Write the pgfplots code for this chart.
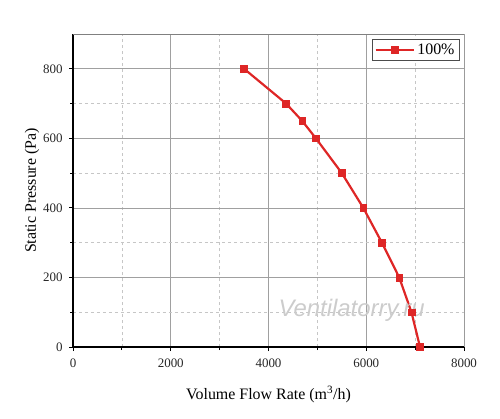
\documentclass[border=0pt]{standalone}
\usepackage{pgfplots}
\pgfplotsset{compat=1.18}
\usepackage{fontspec}
\setmainfont{Liberation Serif}
\setsansfont{Liberation Sans}
\definecolor{cred}{RGB}{222,38,38}
\definecolor{gridc}{RGB}{160,160,160}
\begin{document}
\begin{tikzpicture}[x=1bp,y=1bp]
\path[use as bounding box] (0,0) rectangle (500,418);
\begin{axis}[
  at={(73bp,71bp)}, anchor=south west,
  scale only axis, width=391bp, height=313bp,
  xmin=0, xmax=8000, ymin=0, ymax=900,
  xtick={0,2000,4000,6000,8000},
  ytick={0,200,400,600,800},
  minor xtick={1000,3000,5000,7000},
  minor ytick={100,300,500,700},
  grid=both,
  major grid style={gridc, line width=0.6pt},
  minor grid style={gridc!60, dashed, line width=0.4pt},
  axis x line*=bottom, axis y line*=left,
  axis line style={black, line width=1.1pt, -},
  tick align=outside,
  tick style={black, line width=0.8pt},
  major tick length=4bp, minor tick length=3bp,
  xtick pos=bottom, ytick pos=left,
  scaled x ticks=false,
  /pgf/number format/assume math mode=true,
  /pgf/number format/1000 sep={},
  tick label style={font=\fontsize{13}{15}\selectfont, text=black!85},
  xticklabel style={yshift=-4bp},
  yticklabel style={xshift=-3bp},
  xlabel={Volume Flow Rate (m\textsuperscript{3}/h)},
  ylabel={Static Pressure (Pa)},
  label style={font=\fontsize{16}{18}\selectfont},
  xlabel style={yshift=-12bp},
  ylabel style={yshift=-3bp},
  legend style={at={(0.988,0.984)}, anchor=north east, draw=black!70, line width=0.6pt,
    font=\fontsize{16}{18}\selectfont, inner sep=2.5bp},
  legend image code/.code={%
    \draw[mark repeat=2,mark phase=2] plot coordinates {(0cm,0cm) (0.68cm,0cm) (1.36cm,0cm)};},
  legend cell align=left,
]
\draw[gridc!80!black, line width=0.8pt] (axis cs:0,900) -- (axis cs:8000,900) -- (axis cs:8000,0);
\addplot[cred, line width=2.2pt, mark=square*, mark size=3.4bp, mark options={solid, fill=cred, line width=0.5pt}]
  coordinates {
  (3500,800) (4360,700) (4690,650) (4970,600) (5500,500)
  (5940,400) (6320,300) (6675,200) (6925,100) (7100,0)
  };
\addlegendentry{100\%}
\node[font=\sffamily\itshape\fontsize{24}{26}\selectfont, text=gray!40] at (axis cs:5700,106) {Ventilatorry.ru};
\end{axis}
\end{tikzpicture}
\end{document}
